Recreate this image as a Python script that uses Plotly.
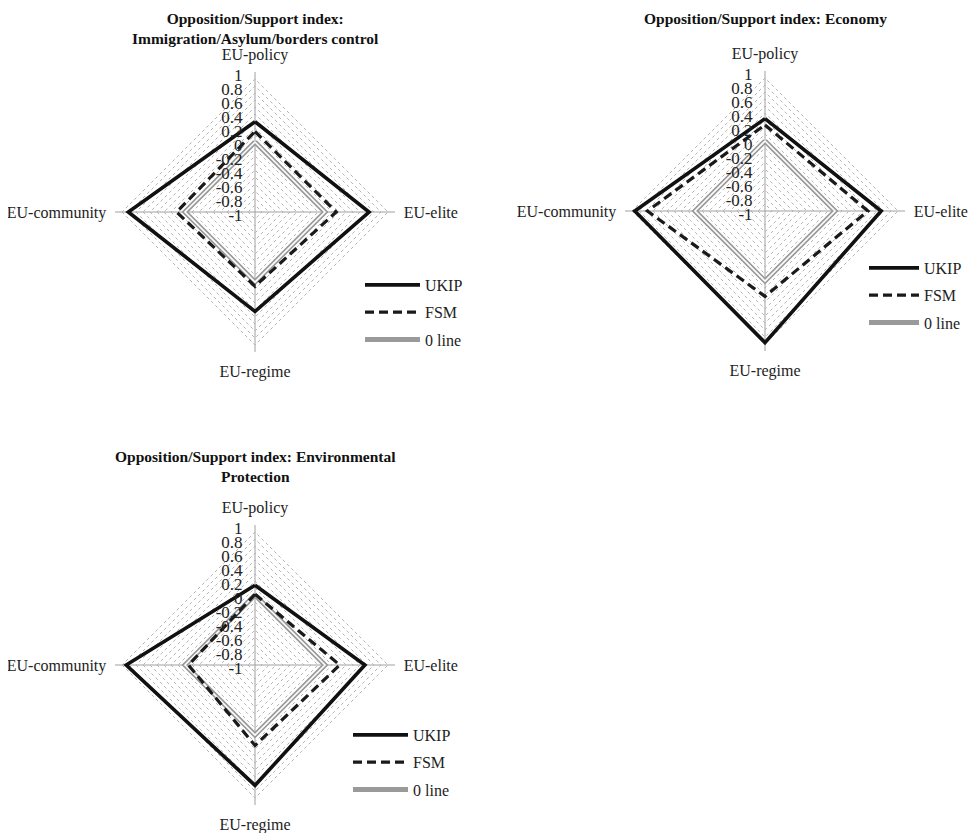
import plotly.graph_objects as go

categories = ["EU-policy", "EU-elite", "EU-regime", "EU-community"]
radial_ticks = [-1, -0.9, -0.8, -0.7, -0.6, -0.5, -0.4, -0.3, -0.2, -0.1, 0,
                0.1, 0.2, 0.3, 0.4, 0.5, 0.6, 0.7, 0.8, 0.9, 1]
radial_ticktext = ["-1", "", "-0.8", "", "-0.6", "", "-0.4", "", "-0.2", "", "0",
                   "", "0.2", "", "0.4", "", "0.6", "", "0.8", "", "1"]

imm_ukip = [0.29, 0.63, 0.42, 0.81]
imm_fsm = [0.15, 0.16, 0.06, 0.12]
eco_ukip = [0.32, 0.66, 0.88, 0.86]
eco_fsm = [0.23, 0.47, 0.22, 0.68]
env_ukip = [0.14, 0.57, 0.72, 0.84]
env_fsm = [0.01, 0.21, 0.15, -0.05]
zero_line = [0, 0, 0, 0]

titles = [
    "Opposition/Support index:<br>Immigration/Asylum/borders control",
    "Opposition/Support index: Economy",
    "Opposition/Support index: Environmental<br>Protection",
]

FONT = "Liberation Serif"
W, H = 976, 833
OFF = 8  # page body offset


def px(x):
    return (x - OFF) / W


def py(y):
    return 1 - (y - OFF) / H


# layout in screen pixels
centers = [(255, 212), (765, 211), (255, 665)]
R = 140
legend_xy = [(360, 268), (864, 251), (348, 718)]
# (x, y, yanchor)
title_xy = [(255, 8, "top"), (765, 8, "top"), (255, 446, "top")]

panels = [
    (imm_ukip, imm_fsm, "polar", "legend"),
    (eco_ukip, eco_fsm, "polar2", "legend2"),
    (env_ukip, env_fsm, "polar3", "legend3"),
]


def closed(v):
    return list(v) + [v[0]]


theta = closed(categories)

fig = go.Figure()
for ukip, fsm, sp, lg in panels:
    fig.add_trace(go.Scatterpolar(r=closed(zero_line), theta=theta, mode="lines",
                                  line=dict(color="#9a9a9a", width=5),
                                  name="0 line", subplot=sp, legend=lg,
                                  legendgroup=sp + "z", legendrank=3))
    fig.add_trace(go.Scatterpolar(r=closed(zero_line), theta=theta, mode="lines",
                                  line=dict(color="white", width=1.6),
                                  name="0 line", subplot=sp, legend=lg, showlegend=False,
                                  legendgroup=sp + "z", hoverinfo="skip"))
    fig.add_trace(go.Scatterpolar(r=closed(fsm), theta=theta, mode="lines",
                                  line=dict(color="#1a1a1a", width=3.2, dash="9px,5px"),
                                  name="FSM", subplot=sp, legend=lg,
                                  legendgroup=sp + "f", legendrank=2))
    fig.add_trace(go.Scatterpolar(r=closed(ukip), theta=theta, mode="lines",
                                  line=dict(color="#111111", width=3.6),
                                  name="UKIP", subplot=sp, legend=lg,
                                  legendgroup=sp + "u", legendrank=1))

polar_common = dict(
    bgcolor="white",
    gridshape="linear",
    radialaxis=dict(range=[-1, 1], tickvals=radial_ticks, ticktext=radial_ticktext,
                    angle=90, side="counterclockwise",
                    showline=False, showgrid=True, gridcolor="#b4b4b4", griddash="dot",
                    gridwidth=1, ticks="", tickfont=dict(family=FONT, size=17, color="#222")),
    angularaxis=dict(direction="clockwise", rotation=90, showline=False,
                     showgrid=True, gridcolor="#a0a0a0", gridwidth=1,
                     ticks="outside", ticklen=5, tickcolor="rgba(0,0,0,0)",
                     tickfont=dict(family=FONT, size=16, color="#222")),
)

legend_common = dict(font=dict(family=FONT, size=16, color="#222"), traceorder="grouped",
                     tracegroupgap=3.5, bgcolor="rgba(0,0,0,0)", xanchor="left", yanchor="top")

legend_itemwidths = [55, 50, 55]

layout_polars = {}
for i, (cx, cy) in enumerate(centers):
    key = "polar" if i == 0 else f"polar{i+1}"
    layout_polars[key] = dict(domain=dict(x=[px(cx - R), px(cx + R)],
                                          y=[py(cy + R), py(cy - R)]), **polar_common)

layout_legends = {}
for i, (lx, ly) in enumerate(legend_xy):
    key = "legend" if i == 0 else f"legend{i+1}"
    layout_legends[key] = dict(x=px(lx), y=py(ly), itemwidth=legend_itemwidths[i],
                               **legend_common)

fig.update_layout(
    width=W, height=H,
    margin=dict(l=0, r=0, t=0, b=0),
    paper_bgcolor="white",
    font=dict(family=FONT, color="#222"),
    **layout_polars, **layout_legends,
)

for t, (tx, ty, ya) in zip(titles, title_xy):
    fig.add_annotation(text="<b>" + t + "</b>", x=px(tx), y=py(ty),
                       xref="paper", yref="paper", xanchor="center", yanchor=ya,
                       showarrow=False, font=dict(family=FONT, size=15.5, color="#111"))

fig.write_html("out.html")
